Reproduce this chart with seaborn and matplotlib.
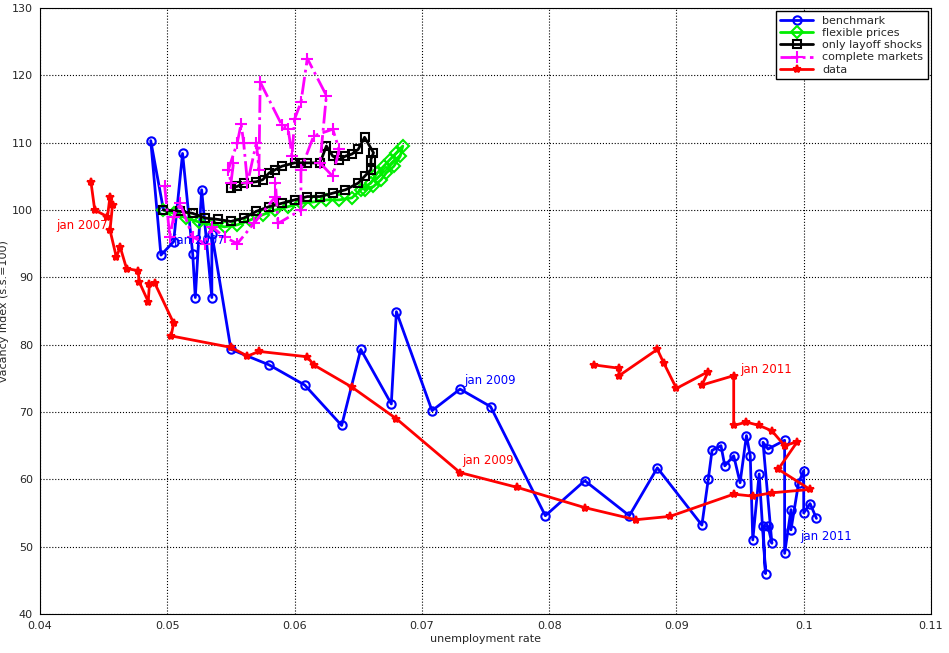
import matplotlib
matplotlib.use("Agg")
import matplotlib.pyplot as plt
import seaborn as sns
import pandas as pd

# benchmark model
bench_u = [0.0497, 0.0487, 0.0495, 0.0505, 0.0512, 0.0520, 0.0522, 0.0527, 0.0535, 0.0535, 0.0550,
           0.0580, 0.0608, 0.0637, 0.0652, 0.0676, 0.0680, 0.0708, 0.0730, 0.0754, 0.0797, 0.0828,
           0.0863, 0.0885, 0.0920, 0.0925, 0.0928, 0.0935, 0.0938, 0.0945, 0.0950, 0.0955, 0.0958,
           0.0960, 0.0965, 0.0970, 0.0968, 0.0972, 0.0975, 0.0968, 0.0972, 0.0985, 0.0985, 0.0990,
           0.0990, 0.0996, 0.1000, 0.1000, 0.1005, 0.1010]
bench_v = [100.0, 110.3, 93.3, 95.3, 108.4, 93.4, 87.0, 103.0, 87.0, 96.5, 79.3,
           77.0, 74.0, 68.0, 79.3, 71.2, 84.9, 70.2, 73.4, 70.8, 54.6, 59.8,
           54.6, 61.7, 53.2, 60.0, 64.3, 65.0, 62.0, 63.5, 59.5, 66.5, 63.5,
           51.0, 60.8, 46.0, 53.0, 53.0, 50.5, 65.5, 64.5, 65.8, 49.0, 55.5,
           52.5, 59.5, 61.3, 55.0, 56.4, 54.2]

flex_u = [0.0497, 0.0505, 0.0515, 0.0525, 0.0535, 0.0545, 0.0555, 0.0565, 0.0575, 0.0585, 0.0595,
          0.0605, 0.0615, 0.0625, 0.0635, 0.0645, 0.0652, 0.0660, 0.0665, 0.0670, 0.0675, 0.0680,
          0.0685, 0.0683, 0.0678, 0.0672, 0.0668, 0.0662, 0.0655]
flex_v = [100.0, 99.5, 98.8, 98.2, 97.8, 97.5, 97.8, 98.5, 99.3, 100.0, 100.5,
          101.0, 101.2, 101.5, 101.5, 101.8, 103.0, 104.0, 105.5, 106.5, 107.5, 108.5,
          109.5, 108.0, 106.5, 105.5, 104.5, 103.5, 103.0]

layoff_u = [0.0497, 0.0510, 0.0520, 0.0530, 0.0540, 0.0550, 0.0560, 0.0570, 0.0580, 0.0590, 0.0600,
            0.0610, 0.0620, 0.0630, 0.0640, 0.0650, 0.0655, 0.0660, 0.0660, 0.0662, 0.0655, 0.0650,
            0.0645, 0.0640, 0.0635, 0.0630, 0.0625, 0.0620, 0.0610, 0.0605, 0.0600, 0.0590, 0.0585,
            0.0580, 0.0575, 0.0570, 0.0560, 0.0555, 0.0550]
layoff_v = [100.0, 99.8, 99.5, 98.8, 98.6, 98.3, 98.8, 99.8, 100.5, 101.0, 101.5,
            102.0, 102.0, 102.5, 103.0, 104.0, 105.0, 106.0, 107.5, 108.5, 110.8, 109.0,
            108.3, 108.0, 107.5, 108.0, 109.5, 107.0, 107.0, 107.0, 107.0, 106.5, 106.0,
            105.5, 104.5, 104.2, 104.0, 103.5, 103.3]

cm_u = [0.0498, 0.0502, 0.0505, 0.0510, 0.0520, 0.0530, 0.0535, 0.0545, 0.0555, 0.0568, 0.0585,
        0.0585, 0.0587, 0.0605, 0.0605, 0.0615, 0.0630, 0.0635, 0.0630, 0.0620, 0.0625, 0.0610,
        0.0605, 0.0600, 0.0598, 0.0595, 0.0590, 0.0573, 0.0572, 0.0570, 0.0563, 0.0560, 0.0558,
        0.0555, 0.0548, 0.0550, 0.0552]
cm_v = [103.5, 96.0, 99.0, 101.0, 96.0, 95.0, 97.5, 96.0, 95.0, 98.0, 102.0,
        104.0, 98.0, 100.0, 106.0, 111.0, 112.0, 109.0, 105.0, 107.0, 117.0, 122.5,
        116.0, 113.5, 108.0, 112.0, 112.6, 119.0, 106.0, 110.0, 104.0, 110.0, 112.8,
        110.0, 106.0, 104.0, 107.0]

data_u = [0.0440, 0.0443, 0.0453, 0.0455, 0.0457, 0.0455, 0.0460, 0.0463, 0.0468, 0.0477, 0.0478,
          0.0485, 0.0486, 0.0490, 0.0505, 0.0503, 0.0550, 0.0563, 0.0572, 0.0610, 0.0615, 0.0645,
          0.0680, 0.0730, 0.0775, 0.0828, 0.0868, 0.0895, 0.0945, 0.0960, 0.0975, 0.1005, 0.0980,
          0.0995, 0.0985, 0.0975, 0.0965, 0.0955, 0.0945, 0.0945, 0.0920, 0.0925, 0.0900, 0.0890,
          0.0885, 0.0855, 0.0855, 0.0835]
data_v = [104.2, 100.0, 99.0, 102.0, 100.8, 97.0, 93.0, 94.5, 91.3, 91.0, 89.3,
          86.4, 89.0, 89.2, 83.2, 81.3, 79.6, 78.3, 79.0, 78.2, 77.0, 73.7,
          69.0, 61.0, 58.8, 55.8, 54.0, 54.5, 57.8, 57.5, 58.0, 58.5, 61.5,
          65.6, 65.0, 67.2, 68.0, 68.5, 68.0, 75.4, 74.0, 76.0, 73.5, 77.3,
          79.3, 75.4, 76.5, 77.0]

series = [
    ("benchmark", bench_u, bench_v, "blue", "o", "-"),
    ("flexible prices", flex_u, flex_v, "#00ee00", "D", "-"),
    ("only layoff shocks", layoff_u, layoff_v, "black", "s", "-"),
    ("complete markets", cm_u, cm_v, "magenta", "+", "-."),
    ("data", data_u, data_v, "red", "*", "-"),
]

sns.set_style("white")
fig = plt.figure(figsize=(9.49, 6.53), dpi=100)
ax = fig.add_axes([40 / 949, 1 - 614 / 653, 891 / 949, 606 / 653])

for name, u, v, col, mk, ls in series:
    df = pd.DataFrame({"u": u, "v": v})
    sns.lineplot(data=df, x="u", y="v", sort=False, estimator=None, ax=ax, color=col,
                 marker=mk, linestyle=ls, linewidth=2, markersize=6 if mk != "+" else 9,
                 markerfacecolor="none" if mk in "oDs" else col, markeredgecolor=col,
                 markeredgewidth=1.5, label=name)

ax.text(0.0413, 97.2, "jan 2007", color="red", fontsize=8.5)
ax.text(0.0505, 95.0, "jan 2007", color="blue", fontsize=8.5)
ax.text(0.0733, 74.2, "jan 2009", color="blue", fontsize=8.5)
ax.text(0.0732, 62.3, "jan 2009", color="red", fontsize=8.5)
ax.text(0.0950, 75.8, "jan 2011", color="red", fontsize=8.5)
ax.text(0.0997, 51.0, "jan 2011", color="blue", fontsize=8.5)

ax.set_xlim(0.04, 0.11)
ax.set_ylim(40, 130)
ax.set_xticks([0.04, 0.05, 0.06, 0.07, 0.08, 0.09, 0.1, 0.11])
ax.set_xticklabels(["0.04", "0.05", "0.06", "0.07", "0.08", "0.09", "0.1", "0.11"])
ax.set_yticks(range(40, 131, 10))
ax.grid(True, color="black", linestyle=":", linewidth=0.8)
ax.tick_params(labelsize=8, direction="in", length=4, pad=5)
ax.set_xlabel("unemployment rate", fontsize=8, labelpad=2)
ax.set_ylabel("vacancy index (s.s.=100)", fontsize=8, labelpad=2)
for s in ax.spines.values():
    s.set_color("black")
leg = ax.legend(loc="upper right", fontsize=8, fancybox=False, framealpha=1,
                edgecolor="black", borderaxespad=0.3, handlelength=3, labelspacing=0.2)
fig.savefig("out.png", dpi=100)
